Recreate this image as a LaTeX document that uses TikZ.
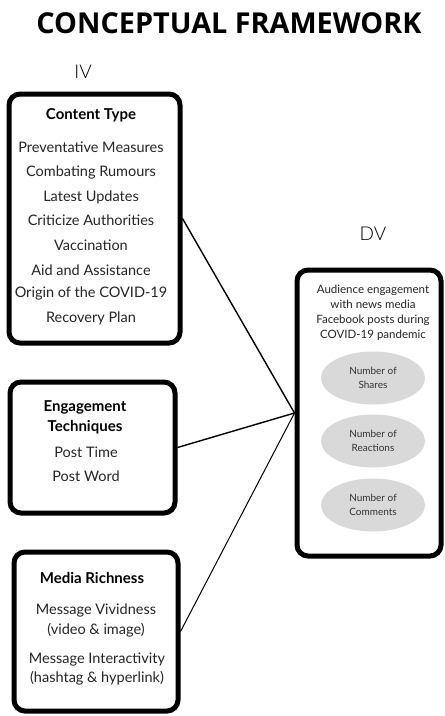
\documentclass[tikz,border=0pt]{standalone}
\usepackage{fontspec}
\setmainfont{Lato}
\newfontfamily\titlefont{Open Sans}
\tikzset{
  bigbox/.style={draw=black, line width=5pt, rounded corners=11pt, fill=white, inner sep=0pt},
  itemtxt/.style={font=\fontsize{14.5}{16}\selectfont, text=black!85, inner sep=0pt},
  headtxt/.style={font=\fontsize{15}{17}\selectfont\bfseries, inner sep=0pt},
  dvtxt/.style={font=\fontsize{11.5}{15}\selectfont, align=center, inner sep=0pt, text=black!85},
  ovl/.style={ellipse, fill=black!15, minimum width=104pt, minimum height=53pt, inner sep=0pt, font=\fontsize{10}{14}\selectfont, align=center, text=black!80},
  link/.style={draw=black, line width=1.4pt}
}
\usetikzlibrary{shapes.geometric}
\begin{document}
\begin{tikzpicture}[x=1pt,y=-1pt]
\useasboundingbox (0,0) rectangle (445,716);
\node[font=\titlefont\fontsize{28.8}{32}\selectfont\bfseries] (title) at (229,23) {CONCEPTUAL FRAMEWORK};
\node[font=\fontsize{19}{21}\selectfont] (iv) at (83,72) {\fontspec{Lato Light}IV};
\node[font=\fontsize{19}{21}\selectfont] (dvl) at (373,234) {\fontspec{Lato Light}DV};

% boxes
\node[bigbox, minimum width=171pt, minimum height=249pt] (ct) at (94.5,218.5) {};
\node[bigbox, minimum width=165pt, minimum height=131pt] (et) at (92.5,447.5) {};
\node[bigbox, minimum width=164pt, minimum height=159pt] (mr) at (96,631.5) {};
\node[bigbox, minimum width=144pt, minimum height=286pt] (dv) at (369,413) {};

% content type
\node[headtxt] (cth) at (91,115) {Content Type};
\foreach \t/\y [count=\i] in {Preventative Measures/147, Combating Rumours/172, Latest Updates/197, Criticize Authorities/220, Vaccination/245, Aid and Assistance/270, Origin of the COVID-19/293, Recovery Plan/318}
  \node[itemtxt] (ct\i) at (91,\y) {\t};

% engagement techniques
\node[headtxt] (eth1) at (85,407) {Engagement};
\node[headtxt] (eth2) at (85,427) {Techniques};
\node[itemtxt] (et1) at (86,452) {Post Time};
\node[itemtxt] (et2) at (86,476) {Post Word};

% media richness
\node[headtxt] (mrh) at (92,578) {Media Richness};
\node[itemtxt] (mr1) at (96,610) {Message Vividness};
\node[itemtxt] (mr2) at (96,630) {(video \& image)};
\node[itemtxt] (mr3) at (97,659) {Message Interactivity};
\node[itemtxt] (mr4) at (97,678) {(hashtag \& hyperlink)};

% DV content
\node[dvtxt] (dvt) at (373,312.5) {Audience engagement\\with news media\\Facebook posts during\\COVID-19 pandemic};
\node[ovl] (e1) at (373,378) {Number of\\Shares};
\node[ovl] (e2) at (373,441) {Number of\\Reactions};
\node[ovl] (e3) at (373,505) {Number of\\Comments};

% connectors
\draw[link] (ct.east) -- (dv.west);
\draw[link] (et.east) -- (dv.west);
\draw[link, line width=1pt] (mr.east) -- (dv.west);
\end{tikzpicture}
\end{document}
